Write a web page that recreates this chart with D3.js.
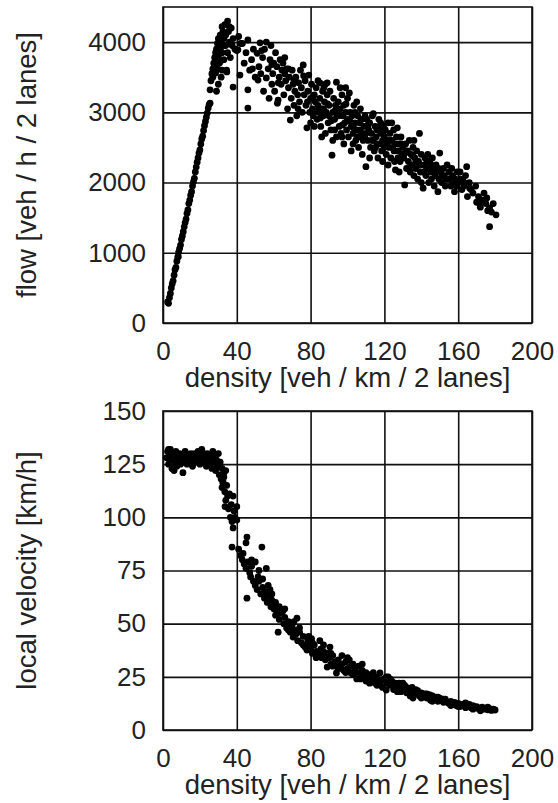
<!DOCTYPE html>
<html>
<head>
<meta charset="utf-8">
<script src="https://cdn.jsdelivr.net/npm/d3@7"></script>
<style>
body{margin:0;background:#fff;}
text{font-family:"Liberation Sans",Arial,sans-serif;fill:#222;}
</style>
</head>
<body>
<script>
// density ticks shared by both panels
var densityTicks = [0,40,80,120,160,200];
var flowTicks = [0,1000,2000,3000,4000];
var velocityTicks = [0,25,50,75,100,125,150];

// flow-density points: [density, flow]
var flowFree = [[2.5,300],[3,280],[3.5,360],[4,420],[4.5,500],[5,560],[5.5,600],[6,680],[6.5,760],[7,790],[7.5,880],[8,940],[8.3,944],[8.5,1010],[9,1060],[9.5,1110],[10,1190],[10.5,1240],[11,1300],[11.5,1370],[12,1430],[12.5,1480],[13,1560],[13.5,1610],[14,1700],[14.5,1750],[15,1820],[15.5,1870],[16,1950],[16.5,2010],[17,2060],[17.5,2150],[18,2220],[18.5,2290],[19,2350],[19.5,2420],[20,2464],[20.5,2550],[21,2620],[21.5,2660],[22,2740],[22.5,2810],[23,2870],[23.5,2930],[24,2990],[24.5,3060],[25,3110],[25.5,3130],[25.5,3320]];
var flowPeak = [[26,3450],[26.5,3550],[27,3500],[27,3620],[27.5,3700],[28,3650],[28,3780],[28.5,3850],[28.5,3560],[29,3900],[29,3720],[29.5,3980],[29.5,3620],[30,4050],[30,3800],[30.5,3700],[31,4100],[31,3900],[31.5,4000],[32,4220],[32,3850],[32.5,4150],[33,4050],[33,3750],[33.5,4250],[34,4100],[34,3950],[34.5,3600],[35,4300],[35,3850],[35.5,4150],[36,4000],[36.5,3780],[37,4200],[37.5,3950],[38,4050],[38,3360],[39,3900],[40,3880],[40.6,3890],[41,4080],[41.7,3530],[42,3980],[30,3400],[31.5,3500],[34.6,3575],[32,3600],[29,3300],[30.5,3950],[33,3950],[36,4220],[31,3720]];
var flowJam = [[43,3980],[44,3700],[45,3850],[46,4030],[46,3320],[46,3060],[47,3600],[48,3750],[49,3900],[50,3500],
[51,3840],[51.5,3460],[52,3650],[52.6,3990],[53,3550],[54,3780],[54.5,3300],[55,3900],[56,4000],[56,3490],[57,3620],[57.5,3200],[58,3750],[58.5,3950],[59,3400],[59.5,3550],
[60,3700],[60.5,3300],[61,3850],[61.7,3650],[62,3130],[62.4,3175],[63,3500],[63.5,3750],[64,3400],[64.5,3600],[65,3700],[65.5,3250],[66,3550],[66.5,3450],[67,3620],[67.5,3050],[68,3350],[68.5,3500],[69,2890],[69.5,3200],
[70,3600],[70.5,3400],[71,3100],[71.5,3300],[72,3500],[72.5,2950],[73,3250],[73.5,3420],[74,3150],[74.5,3600],[75,3350],[75.5,3000],[76,3675],[76.5,3250],[77,3450],[77.5,3100],[78,2780],[78.5,3300],[79,3530],[79.5,3000],[80,3200],[80,2850],
[80.5,3400],[81,3050],[81.5,2950],[82,3250],[82.5,3150],[83,3350],[83.5,2900],[84,3100],[84.5,3000],[85,3420],[85,3200],[85.5,2800],[86,3050],[86.5,3300],[87,2950],[87.5,3150],[88,3400],[88,2700],[88.5,3000],[89,3250],[89.5,2850],[90,3100],[90,2950],[86,2650],[84,3450],[82,2800],[89,3420],[87,3050],
[90.5,3300],[91,2750],[91.6,2390],[92,3000],[92.5,3200],[93,2900],[93.5,3100],[94,3430],[94,2650],[94.5,2950],[95,3150],[95.5,2800],[96,3050],[96.5,2700],[97,3250],[97.5,2950],[98,3100],[98,2550],[98.5,2850],[99,3000],[99.5,2750],[100,3200],[100,2900],[96,3350],[92,2600],[97,2650],[99,3350],[93,2750],
[100.5,2650],[101,3275],[101.5,3000],[102,2800],[102.5,2950],[103,2700],[103.5,3100],[104,2850],[104.5,2600],[105,3150],[105,2750],[105.5,2950],[106,2500],[106.5,2850],[107,3050],[107.5,2700],[108,2900],[108.5,2600],[109,2800],[109.5,2950],[110,2700],[110,2226],[102,2450],[104,3000],[106,2650],[108,2400],[103,2550],[107,2750],
[110.5,2900],[111,2600],[111.5,2750],[112,2850],[112.5,2500],[113,2700],[113.5,2950],[114,2600],[114.5,2450],[115,2800],[115.5,2650],[116,2750],[116.5,2350],[117,2900],[117.5,2550],[118,2700],[118.5,2450],[119,2600],[119.5,2800],[120,2500],[120,2650],[112,2350],[114,2980],[116,2550],[118,2850],[119,2300],
[120.5,2750],[121,2400],[121.5,2600],[122,2850],[122.5,2500],[123,2700],[123.5,2350],[124,2600],[124.5,2500],[125,2750],[125.5,2300],[126,2180],[126,2550],[126.5,2650],[127,2780],[127.5,2450],[128,2550],[128.5,2300],[129,2650],[129.5,2400],[130,2500],[122,2250],[124,2850],[128,2150],
[130.5,2350],[131,1966],[131.5,2550],[132,2200],[132.5,2450],[133,2300],[133.5,2600],[134,2150],[134.5,2400],[135,2250],[135.5,2500],[136,2100],[136.5,2350],[137,2200],[137.5,2450],[138,2050],[138.5,2300],[139,2700],[139.5,2150],[140,2400],[140,2000],[136,2600],
[141,1920],[141.5,2250],[142,2350],[142.5,2100],[143,2200],[143.5,2400],[144,2000],[144.5,2300],[145,2150],[145.5,2050],[146,2350],[146.5,2200],[147,1950],[147.5,2100],[148,2250],[149,1870],[149.5,2050],[150,2420],
[150.5,2150],[151,2000],[152,2200],[152.5,2100],[153,1950],[154,2250],[154.5,2050],[155,2150],[156,1950],[156.5,2200],[157,2100],[158,1870],[158.5,2050],[159.5,2150],
[160,2000],[161,2150],[162,1900],[162.5,2050],[163,1950],[164,2100],[164.6,2226],[165,1800],[166,2000],[167,1900],[168,1850],[169.5,1950],
[170,1720],[171,1800],[172,1650],[173,1750],[174,1850],[175,1700],[176,1600],[177,1640],[177,1372],[178,1580],[179,1700],[180.5,1540]];
// the dense middle of the congested cloud
var flowCore = [[48.5,3620],[53.5,3880],[59,3680],[62.5,3420],[66,3780],[68,3620],[71.2,3450],[73.2,3050],[76.2,3520],[78.3,3150],[81.3,3220],[83.2,3020],[85.3,2920],[87.2,3350],[89.2,3120],[91.3,2880],[93.2,3020],[95.3,2950],[97.2,2820],[99.2,3120],[101.2,2880],[103.3,2780],[105.2,2650],[107.3,2900],[109.3,2650],[111.2,2820],[113.2,2600],[115.2,2500],[117.3,2780],[119.2,2700],[121.3,2550],[123.2,2600],[125.2,2450],[127.3,2350],[129.2,2550],[131.3,2420],[133.2,2200],[135.3,2380],[137.2,2300],[139.2,2250],[141.3,2150],[143.2,2300],[145.3,2250],[147.2,2150],[149.3,2200],[151.2,2100],[153.2,2050],[155.3,2050],[157.2,1980],[159.2,1950],[161.3,2050],[163.2,2000],[166.2,1920],[171.5,1700],[175.5,1780]];

// velocity-density points: [density, velocity]
var velFree = [[2,128],[2.5,131],[3,125],[3.5,129],[4,132],[4.5,127],[5,123],[5.5,130],[6,128],[6.5,126],[7,131],[7.5,124],[8,129],[8.5,127],[9,130],[9.5,125],[10,128],[10.8,121],[11,126],[11.5,129],[12,131],[12.5,127],[13,125],[13.5,129],[14,128],[14.5,126],[15,130],[15.5,127],[16,124],[16.5,128],[17,130],[17.5,126],[18,129],[18.5,127],[19,131],[19.5,128],[20,125],[20.5,129],[21,132],[21.5,127],[22,130],[22.5,126],[23,128],[23.5,124],[24,130],[24.5,127],[25,129],[25.5,125],[26,128],[26.5,123],[27,131],[27.5,126],[28,129],[28.5,122],[29,127],[29.5,124],[30,130],[30.5,120],[31,126],[31.5,118],[32,123],[32.5,116],[33,121],[4.9,123],[6,122],[3,132]];
var velDrop = [[32,114],[32.5,117],[33,119],[33.5,112],[34,122],[34,108],[34.5,115],[35,110],[35.5,104],[33.6,105],[36,111],[36.5,100],[37,106],[37.4,98],[38,110],[38.5,103],[39,100],[40,105],[40,98.7],[38,95],[37.4,86],[43.4,83],[45.5,90.7],[45,88]];
var velJam = [[41,85],[42,82],[43,80],[44,78],[45,76],[45.5,62],[46,79],[47,74],[47.5,72],[48,77],[49,70],[50,79],[50,68],[51,66],[51.5,72],[52,70],[53,64],[53.6,86],[54,67],[55,62],[55.5,65],[56,76],[56.5,60],[57,63],[58,66],[58.5,58],[59,61],[60,57],[60.5,59],[61,54],[62,56],[62.4,46],[63,52],[64,55],[65,56],[65.5,50],[66,53],[67,48],[68,51],[69,46],[70,49],[70.5,43.7],[71,47],[72,45],[72.6,52.6],[73,42],[74,46],[75,41],[76,44],[77,39],[78,37.6],[78.5,42],[79,40],[80,38],[80.5,43],[81,36],[82,40],[83,37],[84,35],[85,42],[85.5,38],[86,34],[87,37],[88,33],[89,29.6],[89.5,36],[90,34],[90.5,39],[91,31],[92,35],[93,32],[94,26.8],[94.5,30],[95,33],[96,29],[97,31],[98,28],[99,32],[100,29],[101,33],[101.5,27],[102,30],[103,26],[104,29],[105,27],[106,30],[106.8,26.8],[107,24],[108,28],[109,25],[110,27],[111,23],[112,26],[113,24],[114,27],[115,22],[116,25],[117,23],[117.6,26.8],[118,21],[119,23.5],[120,24],[121,18.8],[121.5,22],[122,25],[123,21],[124,23],[125,19],[126,22],[126.8,20.2],[128,22],[129,18],[130,20],[131,21],[132,17.5],[133,19.5],[134,18],[135,20],[135.5,15],[136,18.8],[137,17],[138,18.5],[139,16],[140,17.5],[141,15.5],[142,17],[143,15],[144,16.5],[144.7,16.5],[145,14],[146,16],[147,14.5],[148,15.5],[149,13.5],[150,15],[151,14],[152,13],[153,14.5],[154,13],[155,12.5],[156,13.5],[157,12],[158,13],[159,11.5],[160,12.5],[161,11],[162,12],[163,11.5],[164,12.7],[165,11],[166,12],[167,10.5],[168,11.5],[169,10.5],[170,11],[171,10],[172,10.3],[173,10.8],[174,9.8],[175,10.2],[176,9.5],[177,10],[178,9.2],[179,9.8],[180,9.4]];
// extra points that thicken the congested band
var velCore = [[48,80],[52,75],[54,71],[57,68],[59,64],[61,60],[63,58],[66,57],[68,47],[71,51],[74,48],[76,40],[79,44],[81,41],[83,34],[85,36],[87,40],[88,36],[91,36],[92,30],[95,29],[97,35],[99,27],[100,34],[103,31],[105,24],[108,31],[110,23],[112,22],[114,23],[116,21],[119,20],[121,25],[123,24],[125,22],[127,18],[130,22],[132,20],[134,16],[137,19],[140,15],[143,17],[146,13.5],[149,15.5],[152,14.5],[156,11.5],[160,11],[164,10.5],[168,9.8],[172,9],[176,10.8]];

var width = 558;
var height = 803;

var svg = d3.select("body")
.append("svg")
.attr("width",width)
.attr("height",height);

svg.append("rect").attr("width",width).attr("height",height).attr("fill","#fff");

var tickFont = 26;
var titleFont = 27.5;
var plotLeft = 163, plotRight = 532;

function panel(top,bottom,yMax,yTicks,yTitle,points){
	var xScale = d3.scaleLinear().domain([0,200]).range([plotLeft,plotRight]);
	var yScale = d3.scaleLinear().domain([0,yMax]).range([bottom,top]);
	var w = plotRight - plotLeft, h = bottom - top;

	// grid + tick labels
	var xAxis = d3.axisBottom(xScale).tickValues(densityTicks).tickSize(-h).tickSizeOuter(0).tickPadding(19).tickFormat(d3.format("d"));
	var yAxis = d3.axisLeft(yScale).tickValues(yTicks).tickSize(-w).tickSizeOuter(0).tickPadding(17).tickFormat(d3.format("d"));

	var gx = svg.append("g")
	.attr("transform","translate(0," + bottom + ")")
	.call(xAxis);
	var gy = svg.append("g")
	.attr("transform","translate(" + plotLeft + ",0)")
	.call(yAxis);

	[gx,gy].forEach(function(g){
		g.select(".domain").remove();
		g.selectAll("line").attr("stroke","#111").attr("stroke-width",1.6);
		g.selectAll("text").attr("font-size",tickFont).attr("fill","#222")
		.attr("font-family","'Liberation Sans',Arial,sans-serif");
	});

	// frame
	svg.append("rect")
	.attr("x",plotLeft).attr("y",top)
	.attr("width",w).attr("height",h)
	.attr("fill","none").attr("stroke","#111").attr("stroke-width",1.6);

	// points
	svg.append("g").selectAll("circle")
	.data(points)
	.enter()
	.append("circle")
	.attr("cx",function(d){ return xScale(d[0]); })
	.attr("cy",function(d){ return yScale(d[1]); })
	.attr("r",3.4)
	.attr("fill","#000");

	svg.append("text")
	.attr("x",(plotLeft + plotRight)/2)
	.attr("y",bottom + 64)
	.attr("text-anchor","middle")
	.attr("font-size",titleFont)
	.text("density [veh / km / 2 lanes]");

	svg.append("text")
	.attr("transform","translate(36," + (top + bottom)/2 + ") rotate(-90)")
	.attr("text-anchor","middle")
	.attr("font-size",titleFont)
	.text(yTitle);
}

panel(7,323,4500,flowTicks,"flow [veh / h / 2 lanes]",flowFree.concat(flowPeak,flowJam,flowCore));
panel(411,730,150,velocityTicks,"local velocity [km/h]",velFree.concat(velDrop,velJam,velCore));
</script>
</body>
</html>
